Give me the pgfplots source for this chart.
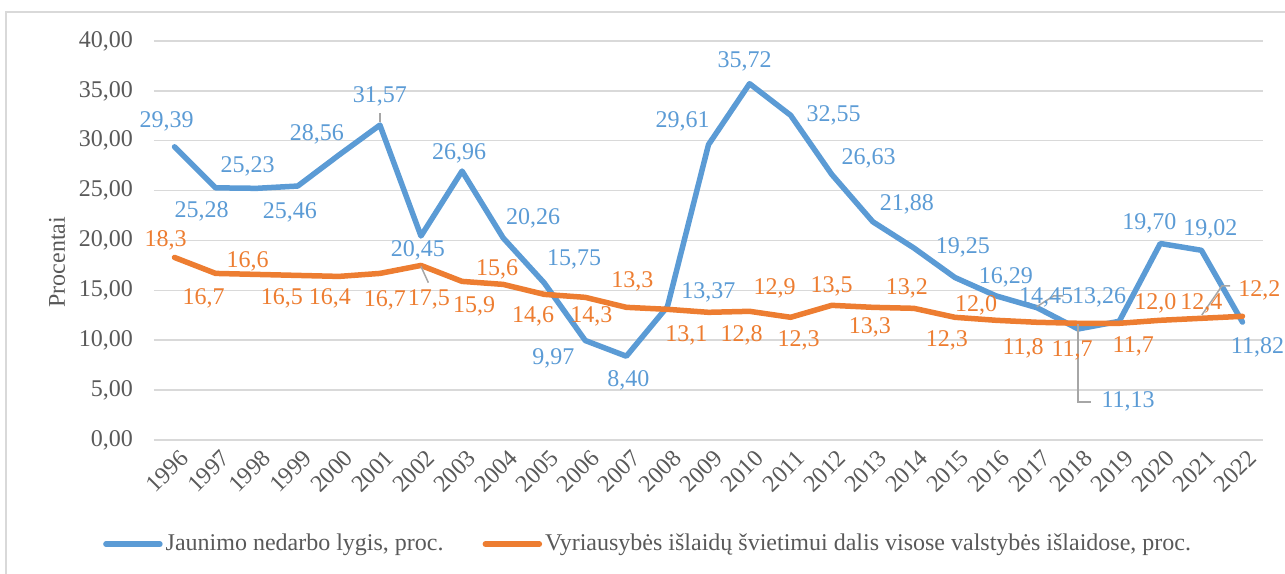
\documentclass[border=0pt]{standalone}
\usepackage{pgfplots}
\usepackage{pgfplotstable}
\pgfplotsset{compat=1.18}
\usepackage{fontspec}
\setmainfont{Liberation Serif}
\definecolor{sblue}{HTML}{5B9BD5}
\definecolor{sorange}{HTML}{ED7D31}
\definecolor{gridgray}{HTML}{D9D9D9}
\definecolor{tickgray}{HTML}{595959}
\definecolor{leadgray}{HTML}{A6A6A6}

\pgfplotstableread{
x y lab dx dy
1996 29.39 29,39 -8 25
1997 25.28 25,28 -14 -24
1998 25.23 25,23 -9 22
1999 25.46 25,46 -8 -26
2000 28.56 28,56 -22 21
2001 31.57 31,57 0 29
2002 20.45 20,45 -3 -14
2003 26.96 26,96 -3 18
2004 20.26 20,26 30 20
2005 15.75 15,75 30 23
2006 9.97 9,97 -32 -18
2007 8.40 8,40 2 -24
2008 13.37 13,37 41 14
2009 29.61 29,61 -26 23
2010 35.72 35,72 -5 22
2011 32.55 32,55 43 0
2012 26.63 26,63 37 16
2013 21.88 21,88 34 17
2014 19.25 19,25 49 1
2015 16.29 16,29 51 0
2016 14.45 14,45 50 -2
2017 13.26 13,26 62 10
2018 11.13 11,13 50 -72
2019 11.90 {} 0 0
2020 19.70 19,70 -11 20
2021 19.02 19,02 9 21
2022 11.82 11,82 15 -25
}\bluetab

\pgfplotstableread{
x y lab dx dy
1996 18.3 18,3 -9 17
1997 16.7 16,7 -12 -25
1998 16.6 16,6 -9 13
1999 16.5 16,5 -16 -23
2000 16.4 16,4 -9 -22
2001 16.7 16,7 5 -27
2002 17.5 17,5 8 -34
2003 15.9 15,9 12 -25
2004 15.6 15,6 -6 15
2005 14.6 14,6 -11 -22
2006 14.3 14,3 6 -19
2007 13.3 13,3 6 26
2008 13.1 13,1 19 -26
2009 12.8 12,8 33 -23
2010 12.9 12,9 25 23
2011 12.3 12,3 8 -23
2012 13.5 13,5 0 19
2013 13.3 13,3 -3 -20
2014 13.2 13,2 -7 20
2015 12.3 12,3 -8 -23
2016 12.0 12,0 -20 15
2017 11.8 11,8 -14 -26
2018 11.7 11,7 -6 -27
2019 11.7 11,7 14 -23
2020 12.0 12,0 -5 17
2021 12.2 12,2 58 28
2022 12.4 12,4 -41 13
}\orangetab

\pgfplotsset{
  lbl/.style={
    point meta=explicit symbolic,
    visualization depends on={\thisrow{dx} \as \mydx},
    visualization depends on={\thisrow{dy} \as \mydy},
    nodes near coords,
    every node near coord/.append style={anchor=center, inner sep=0pt,
      xshift=\mydx*0.5pt, yshift=\mydy*0.5pt, text=#1},
  }
}

\begin{document}
\begin{tikzpicture}[font=\fontsize{12}{14.4}\selectfont]
\useasboundingbox (-77pt,-66.5pt) rectangle (565.5pt,220pt);
\draw[gridgray, line width=0.75pt] (-74pt,-90pt) rectangle (590pt,214pt);
\begin{axis}[
  at={(0,0)}, anchor=south west,
  scale only axis, width=554.5pt, height=199.5pt,
  xmin=1995.5, xmax=2022.5, ymin=0, ymax=40,
  xtick={1996,...,2022}, ytick={0,5,...,40},
  axis line style={draw=none}, major tick length=0,
  ymajorgrids, grid style={color=gridgray, line width=0.75pt},
  xticklabel style={rotate=45, anchor=east, text=tickgray, xshift=2pt, yshift=-8.5pt,
    /pgf/number format/1000 sep={}, /pgf/number format/assume math mode=true},
  yticklabel style={text=tickgray, xshift=-7pt,
    /pgf/number format/fixed, /pgf/number format/zerofill,
    /pgf/number format/precision=2, /pgf/number format/use comma,
    /pgf/number format/assume math mode=true},
  ylabel={Procentai},
  ylabel style={at={(axis description cs:-0.0875,0.446)}, anchor=center, text=tickgray},
  legend columns=2,
  legend style={at={(axis description cs:0.446,-0.261)}, anchor=center,
    draw=none, fill=none, text=tickgray, nodes={inner xsep=1.5pt},
    /tikz/every even column/.append style={column sep=18pt}},
  legend image code/.code={\draw[#1, line cap=round] (0pt,0pt) -- (27pt,0pt);},
  legend entries={{Jaunimo nedarbo lygis, proc.},{Vyriausybės išlaidų švietimui dalis visose valstybės išlaidose, proc.}},
]
\addlegendimage{sblue, line width=2.75pt}
\addlegendimage{sorange, line width=2.75pt}
\addplot[forget plot, sblue, line width=2.75pt, line join=round, line cap=round, no markers, lbl=sblue]
  table[x=x, y=y, meta=lab] {\bluetab};
\addplot[forget plot, sorange, line width=2.75pt, line join=round, line cap=round, no markers, lbl=sorange]
  table[x=x, y=y, meta=lab] {\orangetab};
\draw[leadgray, line width=0.75pt] (axis cs:2001,32.75) -- (axis cs:2001,31.9);
\draw[leadgray, line width=0.75pt] (axis cs:2002,17.4) -- (axis cs:2002.18,15.77);
\draw[leadgray, line width=0.75pt] (axis cs:2016.99,13.36) -- (axis cs:2017.40,14.44) -- (axis cs:2017.64,14.44);
\draw[leadgray, line width=0.75pt] (axis cs:2018,11.6) -- (axis cs:2018,3.81) -- (axis cs:2018.32,3.81);
\draw[leadgray, line width=0.75pt] (axis cs:2021.01,12.53) -- (axis cs:2021.5,15.44) -- (axis cs:2021.7,15.44);
\end{axis}
\end{tikzpicture}
\end{document}
